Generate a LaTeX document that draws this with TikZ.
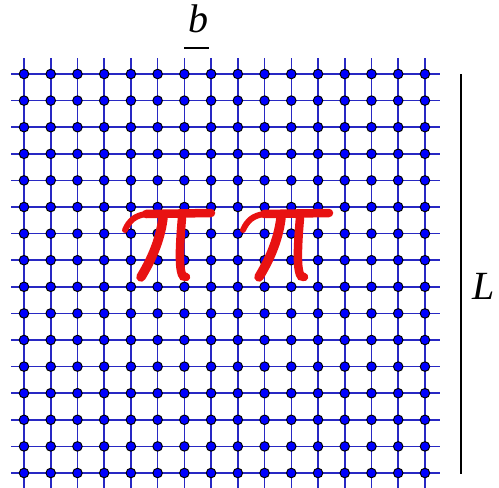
\documentclass[tikz,border=0pt]{standalone}
\usepackage{fontspec}
\newfontfamily\lblfont{Liberation Serif}
\definecolor{gridblue}{RGB}{40,40,195}
\definecolor{dotblue}{RGB}{0,0,255}
\definecolor{pired}{RGB}{232,18,18}
\begin{document}
\begin{tikzpicture}[x=1pt,y=-1pt,
  gridline/.style={draw=gridblue, line width=1.6pt},
  dot/.style={circle, fill=dotblue, draw=black, line width=1pt, inner sep=0pt, minimum size=9.5pt},
  pistroke/.style={draw=pired, line width=8.5pt, line cap=round},
  lbl/.style={font=\lblfont\fontsize{40}{46}\selectfont\itshape, inner sep=0pt},
  bar/.style={draw=black, line width=2pt}]
\useasboundingbox (0,0) rectangle (499,488);
% grid lines
\foreach \r in {0,...,15}{
  \pgfmathsetmacro\yy{74+\r*26.6}
  \coordinate (hl\r) at (11,\yy);
  \coordinate (hr\r) at (440,\yy);
  \draw[gridline] (hl\r) -- (hr\r);
}
\foreach \c in {0,...,15}{
  \pgfmathsetmacro\xx{24+\c*26.73}
  \coordinate (vt\c) at (\xx,58);
  \coordinate (vb\c) at (\xx,490);
  \draw[gridline] (vt\c) -- (vb\c);
}
% dots
\foreach \r in {0,...,15}{
  \foreach \c in {0,...,15}{
    \pgfmathsetmacro\yy{74+\r*26.6}
    \pgfmathsetmacro\xx{24+\c*26.73}
    \node[dot] (d-\r-\c) at (\xx,\yy) {};
  }
}
% pi symbols
\foreach \s in {0,118}{
\begin{scope}[xshift=\s pt]
  \draw[pistroke, line width=6pt] (125,230) .. controls (129,221) and (135,215) .. (147,214);
  \draw[pistroke] (146,214) -- (211,213);
  \draw[pistroke, line width=9.5pt] (163,218) .. controls (160,242) and (150,262) .. (141,277);
  \draw[pistroke] (182,218) .. controls (180,240) and (179,262) .. (181,271) .. controls (182,276) and (184,278) .. (186,277);
\end{scope}
}
% labels
\node[lbl] (blabel) at (198,19) {b};
\coordinate (bl) at (184,48);
\coordinate (br) at (209,48);
\draw[bar] (bl) -- (br);
\coordinate (Lt) at (461,74);
\coordinate (Lb) at (461,474);
\draw[bar] (Lt) -- (Lb);
\node[lbl] (Llabel) at (484,286.5) {L};
\end{tikzpicture}
\end{document}
